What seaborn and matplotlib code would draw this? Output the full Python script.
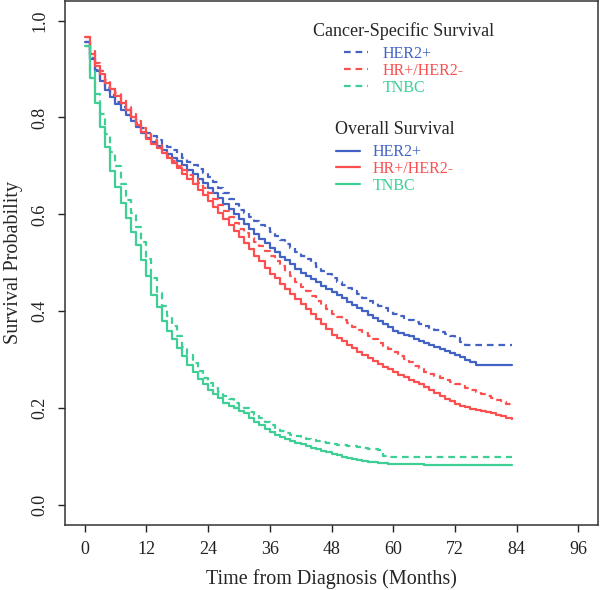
import numpy as np
import pandas as pd
import matplotlib
matplotlib.use("Agg")
import matplotlib.pyplot as plt
from matplotlib.lines import Line2D
import seaborn as sns

# months 0..83, one step per month
months = list(range(84))

her2_os = [0.956, 0.920, 0.896, 0.875, 0.857, 0.843, 0.828, 0.816, 0.806, 0.793, 0.780, 0.768,
           0.757, 0.749, 0.741, 0.733, 0.725, 0.717, 0.710, 0.701, 0.692, 0.683, 0.674, 0.665,
           0.655, 0.644, 0.633, 0.622, 0.612, 0.601, 0.590, 0.580, 0.570, 0.560, 0.550, 0.540,
           0.530, 0.522, 0.513, 0.505, 0.497, 0.488, 0.480, 0.473, 0.467, 0.460, 0.453, 0.447,
           0.440, 0.433, 0.427, 0.420, 0.413, 0.407, 0.400, 0.393, 0.387, 0.380, 0.373, 0.367,
           0.360, 0.356, 0.352, 0.348, 0.343, 0.339, 0.335, 0.331, 0.327, 0.323, 0.318, 0.314,
           0.310, 0.305, 0.300, 0.295, 0.290, 0.290, 0.290, 0.290, 0.290, 0.290, 0.290, 0.290]

her2_css = [0.956, 0.922, 0.898, 0.878, 0.860, 0.846, 0.832, 0.821, 0.811, 0.800, 0.789, 0.778,
            0.768, 0.761, 0.754, 0.746, 0.739, 0.732, 0.725, 0.717, 0.709, 0.701, 0.693, 0.685,
            0.677, 0.666, 0.655, 0.644, 0.632, 0.621, 0.610, 0.602, 0.594, 0.587, 0.579, 0.571,
            0.563, 0.555, 0.547, 0.539, 0.531, 0.523, 0.515, 0.507, 0.499, 0.492, 0.484, 0.476,
            0.468, 0.461, 0.455, 0.448, 0.441, 0.435, 0.428, 0.422, 0.417, 0.411, 0.406, 0.400,
            0.395, 0.391, 0.387, 0.383, 0.378, 0.374, 0.370, 0.366, 0.362, 0.358, 0.353, 0.349,
            0.345, 0.337, 0.330, 0.330, 0.330, 0.330, 0.330, 0.330, 0.330, 0.330, 0.330, 0.330]

hr_os = [0.966, 0.932, 0.906, 0.890, 0.872, 0.859, 0.845, 0.830, 0.815, 0.800, 0.785, 0.770,
         0.756, 0.746, 0.736, 0.726, 0.716, 0.706, 0.695, 0.684, 0.673, 0.662, 0.651, 0.640,
         0.628, 0.616, 0.603, 0.590, 0.578, 0.565, 0.553, 0.540, 0.528, 0.515, 0.503, 0.490,
         0.478, 0.468, 0.457, 0.447, 0.436, 0.426, 0.415, 0.405, 0.394, 0.384, 0.373, 0.363,
         0.352, 0.345, 0.338, 0.331, 0.324, 0.317, 0.310, 0.304, 0.298, 0.292, 0.286, 0.280,
         0.274, 0.269, 0.264, 0.259, 0.254, 0.249, 0.244, 0.238, 0.232, 0.226, 0.220, 0.214,
         0.208, 0.205, 0.202, 0.199, 0.197, 0.195, 0.193, 0.190, 0.187, 0.184, 0.180, 0.177]

hr_css = [0.966, 0.940, 0.912, 0.895, 0.877, 0.863, 0.850, 0.836, 0.822, 0.807, 0.793, 0.779,
          0.765, 0.754, 0.743, 0.732, 0.721, 0.711, 0.700, 0.691, 0.682, 0.673, 0.664, 0.655,
          0.645, 0.632, 0.620, 0.607, 0.595, 0.582, 0.570, 0.561, 0.552, 0.543, 0.534, 0.525,
          0.515, 0.504, 0.493, 0.482, 0.472, 0.461, 0.450, 0.441, 0.432, 0.422, 0.413, 0.404,
          0.395, 0.388, 0.382, 0.375, 0.368, 0.362, 0.355, 0.348, 0.342, 0.335, 0.328, 0.322,
          0.315, 0.308, 0.302, 0.295, 0.288, 0.282, 0.275, 0.271, 0.267, 0.262, 0.258, 0.254,
          0.250, 0.246, 0.242, 0.238, 0.233, 0.229, 0.225, 0.221, 0.217, 0.213, 0.209, 0.205]

tnbc_os = [0.948, 0.882, 0.829, 0.780, 0.739, 0.689, 0.656, 0.623, 0.593, 0.564, 0.536, 0.506,
           0.473, 0.434, 0.409, 0.379, 0.360, 0.343, 0.325, 0.307, 0.290, 0.274, 0.260, 0.249,
           0.238, 0.230, 0.221, 0.211, 0.205, 0.200, 0.195, 0.190, 0.180, 0.172, 0.165, 0.157,
           0.150, 0.144, 0.140, 0.136, 0.132, 0.129, 0.126, 0.122, 0.118, 0.115, 0.112, 0.109,
           0.106, 0.103, 0.100, 0.097, 0.095, 0.093, 0.091, 0.089, 0.088, 0.087, 0.086, 0.085,
           0.085, 0.084, 0.084, 0.084, 0.084, 0.084, 0.082, 0.082, 0.082, 0.082, 0.082, 0.082,
           0.082, 0.082, 0.082, 0.082, 0.082, 0.082, 0.082, 0.082, 0.082, 0.082, 0.082, 0.082]

tnbc_css = [0.948, 0.896, 0.848, 0.807, 0.766, 0.728, 0.699, 0.663, 0.630, 0.603, 0.573, 0.543,
            0.507, 0.468, 0.437, 0.411, 0.390, 0.369, 0.348, 0.326, 0.310, 0.293, 0.276, 0.262,
            0.252, 0.242, 0.233, 0.225, 0.218, 0.211, 0.205, 0.200, 0.193, 0.186, 0.180, 0.172,
            0.165, 0.159, 0.154, 0.149, 0.145, 0.142, 0.139, 0.136, 0.134, 0.132, 0.130, 0.128,
            0.127, 0.125, 0.124, 0.123, 0.121, 0.119, 0.118, 0.116, 0.115, 0.113, 0.101, 0.100,
            0.100, 0.100, 0.100, 0.100, 0.100, 0.100, 0.100, 0.100, 0.100, 0.100, 0.100, 0.100,
            0.100, 0.100, 0.100, 0.100, 0.100, 0.100, 0.100, 0.100, 0.100, 0.100, 0.100, 0.100]

subtypes = ["HER2+", "HR+/HER2-", "TNBC"]
colors = {"HER2+": "#4263c3", "HR+/HER2-": "#fb4f50", "TNBC": "#3fcf94"}

x_ticks = [0, 12, 24, 36, 48, 60, 72, 84, 96]
y_ticks = [0.0, 0.2, 0.4, 0.6, 0.8, 1.0]
y_tick_labels = ["0.0", "0.2", "0.4", "0.6", "0.8", "1.0"]

# long table for seaborn
rows = []
for sub, css, os_ in [("HER2+", her2_css, her2_os),
                      ("HR+/HER2-", hr_css, hr_os),
                      ("TNBC", tnbc_css, tnbc_os)]:
    for m, v in zip(months, css):
        rows.append((sub, "Cancer-Specific", m, v))
    for m, v in zip(months, os_):
        rows.append((sub, "Overall", m, v))
df = pd.DataFrame(rows, columns=["subtype", "endpoint", "month", "surv"])

sns.set_style("ticks")
plt.rcParams['font.family'] = ['Liberation Serif', 'DejaVu Serif']

fig = plt.figure(figsize=(6, 5.9), dpi=100)
ax = fig.add_axes([0.108, 0.111, 0.889, 0.887])

sns.lineplot(data=df, x="month", y="surv", hue="subtype", style="endpoint",
             hue_order=subtypes, palette=colors,
             dashes={"Cancer-Specific": (3, 2.2), "Overall": ""},
             estimator=None, drawstyle="steps-post", linewidth=1.6,
             legend=False, ax=ax)

ax.set_xlim(-3.84, 99.84)
ax.set_ylim(-0.04, 1.04)
ax.set_xticks(x_ticks)
ax.set_yticks(y_ticks)
ax.set_yticklabels(y_tick_labels)
ax.tick_params(axis="both", direction="out", length=5, width=1, labelsize=13,
               colors="#222222", pad=7)
plt.setp(ax.get_yticklabels(), rotation=90, va="center")
for sp in ax.spines.values():
    sp.set_visible(True)
    sp.set_linewidth(1.1)
    sp.set_color("#333333")

ax.set_xlabel("Time from Diagnosis (Months)", fontsize=14.5, labelpad=8)
ax.set_ylabel("Survival Probability", fontsize=14.5, labelpad=6)

# two legends like the original
css_handles = [Line2D([0], [0], color=colors[s], lw=1.6, dashes=(3, 2.2)) for s in subtypes]
os_handles = [Line2D([0], [0], color=colors[s], lw=1.6) for s in subtypes]

leg1 = fig.legend(css_handles, subtypes, title="Cancer-Specific Survival",
                  loc="upper center", bbox_to_anchor=(0.673, 0.963),
                  frameon=False, fontsize=11.5, title_fontsize=13,
                  labelcolor="linecolor", handlelength=1.5, handletextpad=0.9,
                  labelspacing=0.05, borderpad=0, borderaxespad=0)
leg2 = fig.legend(os_handles, subtypes, title="Overall Survival",
                  loc="upper center", bbox_to_anchor=(0.658, 0.795),
                  frameon=False, fontsize=11.5, title_fontsize=13,
                  labelcolor="linecolor", handlelength=1.5, handletextpad=0.75,
                  labelspacing=0.05, borderpad=0, borderaxespad=0)
# a bit more room between each legend title and its entries
leg1._legend_box.sep = 4.5
leg2._legend_box.sep = 4.5

fig.savefig("out.png", dpi=100, facecolor="white")
